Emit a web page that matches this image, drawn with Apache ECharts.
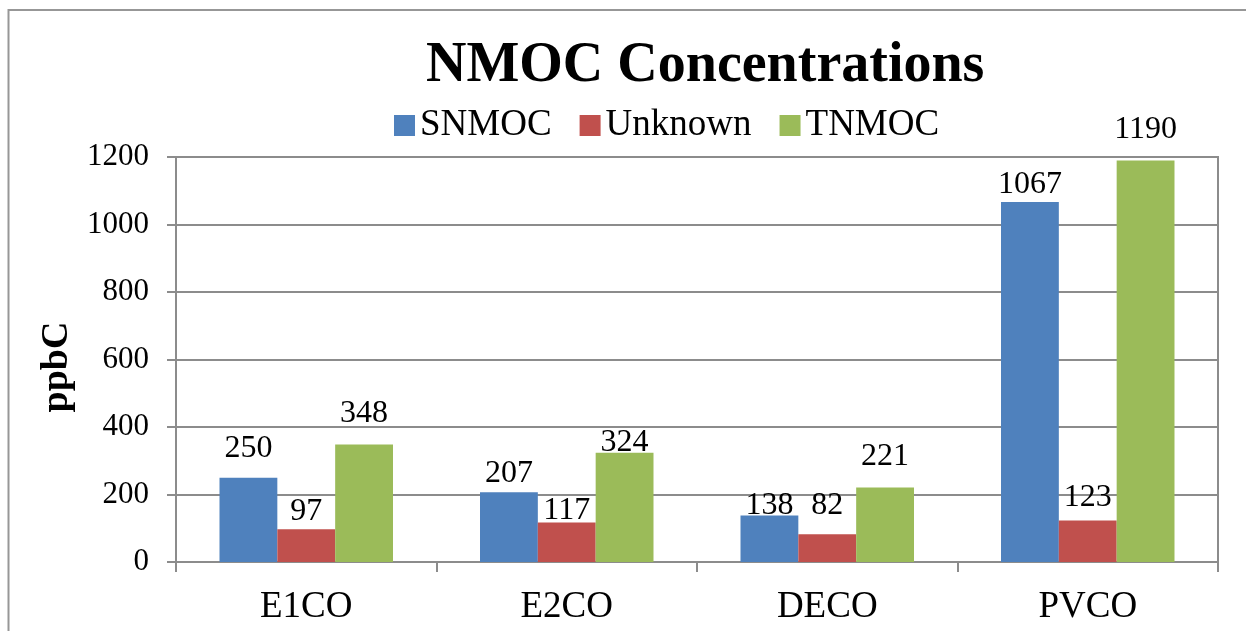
<!DOCTYPE html>
<html>
<head>
<meta charset="utf-8">
<script src="https://cdn.jsdelivr.net/npm/echarts@6/dist/echarts.min.js"></script>
<style>
html,body{margin:0;padding:0;background:#fff;}
#c{width:1246px;height:631px;}
</style>
</head>
<body>
<div id="c"></div>
<script>
var categories = ['E1CO', 'E2CO', 'DECO', 'PVCO'];
var seriesNames = ['SNMOC', 'Unknown', 'TNMOC'];
var snmoc = [250, 207, 138, 1067];
var unknown = [97, 117, 82, 123];
var tnmoc = [348, 324, 221, 1190];
var colors = ['#4F81BD', '#C0504D', '#9BBB59'];
// per-label distance above bar top (label placement as in the original)
var snmocLabelDist = [13, 3, -6, 1];
var unknownLabelDist = [2, -4, 13, 7];
var tnmocLabelDist = [15, -6, 15, 15];

var FONT = "'Liberation Serif', 'Times New Roman', serif";
var GRID = '#8c8c8c';

function items(vals, dists) {
  return vals.map(function (v, i) {
    return { value: v, label: { distance: dists[i] } };
  });
}
function barSeries(name, vals, dists, color) {
  return {
    name: name,
    type: 'bar',
    data: items(vals, dists),
    itemStyle: { color: color },
    barGap: '0%',
    barCategoryGap: '33.4%',
    label: {
      show: true,
      position: 'top',
      color: '#000',
      fontFamily: FONT,
      fontSize: 32,
      lineHeight: 32
    }
  };
}

var chart = echarts.init(document.getElementById('c'), null, { renderer: 'canvas' });
chart.setOption({
  backgroundColor: '#fff',
  animation: false,
  color: colors,
  graphic: [{
    type: 'rect',
    shape: { x: 8.5, y: 10, width: 1400, height: 800 },
    style: { fill: 'none', stroke: '#979797', lineWidth: 2 },
    silent: true,
    z: -10
  }],
  title: {
    text: 'NMOC Concentrations',
    left: 426,
    top: 39,
    padding: 0,
    textStyle: {
      fontFamily: FONT,
      fontWeight: 'bold',
      fontSize: 56,
      lineHeight: 56,
      color: '#000'
    }
  },
  legend: {
    data: seriesNames,
    left: 394,
    top: 107,
    padding: 0,
    itemWidth: 21,
    itemHeight: 21,
    itemGap: 28,
    icon: 'rect',
    textStyle: {
      fontFamily: FONT,
      fontSize: 37,
      lineHeight: 37,
      color: '#000'
    }
  },
  grid: {
    left: 176,
    right: 28,
    top: 157,
    bottom: 69,
    show: true,
    borderColor: GRID,
    borderWidth: 2,
    containLabel: false
  },
  xAxis: {
    type: 'category',
    data: categories,
    axisLine: { show: true, lineStyle: { color: GRID, width: 2 } },
    axisTick: { show: true, length: 10, lineStyle: { color: GRID, width: 2 } },
    axisLabel: {
      color: '#000',
      fontFamily: FONT,
      fontSize: 37,
      lineHeight: 37,
      margin: 27
    }
  },
  yAxis: {
    type: 'value',
    min: 0,
    max: 1200,
    interval: 200,
    name: 'ppbC',
    nameLocation: 'middle',
    nameGap: 98,
    nameTextStyle: {
      fontFamily: FONT,
      fontWeight: 'bold',
      fontSize: 38,
      lineHeight: 38,
      color: '#000',
      padding: [0, 15, 0, 0]
    },
    axisLine: { show: true, lineStyle: { color: GRID, width: 2 } },
    axisTick: { show: true, length: 9, lineStyle: { color: GRID, width: 2 } },
    splitLine: { show: true, lineStyle: { color: GRID, width: 2 } },
    axisLabel: {
      color: '#000',
      fontFamily: FONT,
      fontSize: 31,
      margin: 27,
      formatter: function (v) { return String(v); }
    }
  },
  series: [
    barSeries(seriesNames[0], snmoc, snmocLabelDist, colors[0]),
    barSeries(seriesNames[1], unknown, unknownLabelDist, colors[1]),
    barSeries(seriesNames[2], tnmoc, tnmocLabelDist, colors[2])
  ]
});
</script>
</body>
</html>
